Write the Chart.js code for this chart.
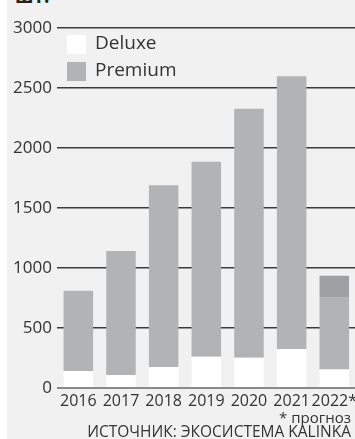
<!DOCTYPE html>
<html>
<head>
<meta charset="utf-8">
<script src="https://cdn.jsdelivr.net/npm/chart.js@4"></script>
<style>
  html, body { margin:0; padding:0; width:355px; height:439px; overflow:hidden; background:#ffffff; }
  #bg { position:absolute; left:7px; top:0; width:348px; height:439px; background:#f1f1f1; }
  #wrap { position:absolute; left:0; top:0; width:361px; height:439px; }
  .txt { position:absolute; font-family:"Open Sans", "Noto Sans", sans-serif; color:#333; white-space:nowrap; }
  #unit { left:15px; top:-17px; font-size:19px; font-weight:bold; color:#222; }
  .leg { position:absolute; left:67px; font-family:"Open Sans", sans-serif; font-size:19px; color:#333; }
  .leg span.sw { position:absolute; left:0; width:19px; height:19px; }
  .leg span.lb { position:absolute; left:28px; top:-6px; white-space:nowrap; }
  #note { right:4px; top:410px; font-size:15px; line-height:15px; }
  #src { right:4px; top:423px; font-size:15.5px; line-height:16px; }
</style>
</head>
<body>
<div id="bg"></div>
<div id="unit" class="txt">шт.</div>
<div id="wrap"><canvas id="c" width="361" height="439"></canvas></div>
<div class="leg" style="top:35px"><span class="sw" style="background:#ffffff"></span><span class="lb" id="l1"></span></div>
<div class="leg" style="top:62px"><span class="sw" style="background:#b2b3b4"></span><span class="lb" id="l2"></span></div>
<div id="note" class="txt">* прогноз</div>
<div id="src" class="txt">ИСТОЧНИК: ЭКОСИСТЕМА KALINKA</div>
<script>
const categories = ['2016','2017','2018','2019','2020','2021','2022*'];
const deluxe   = [142, 108, 175, 261, 253, 325, 155];
const premium  = [669, 1034, 1514, 1625, 2075, 2272, 597];
const forecast = [0, 0, 0, 0, 0, 0, 183];
const yTicks = [0, 500, 1000, 1500, 2000, 2500, 3000];
const seriesNames = ['Deluxe', 'Premium', 'Прогноз'];

document.getElementById('l1').textContent = seriesNames[0];
document.getElementById('l2').textContent = seriesNames[1];

new Chart(document.getElementById('c'), {
  type: 'bar',
  data: {
    labels: categories,
    datasets: [
      { label: seriesNames[0], data: deluxe, backgroundColor: '#ffffff' },
      { label: seriesNames[1], data: premium, backgroundColor: '#b2b3b4' },
      { label: seriesNames[2], data: forecast, backgroundColor: '#9fa0a3' }
    ]
  },
  options: {
    responsive: false,
    animation: false,
    devicePixelRatio: 1,
    layout: { padding: { top: 28, right: 0, left: 0, bottom: 0 } },
    datasets: { bar: { barPercentage: 0.692, categoryPercentage: 1, borderWidth: 0 } },
    plugins: { legend: { display: false }, tooltip: { enabled: false } },
    scales: {
      x: {
        stacked: true,
        grid: { display: false, drawTicks: false },
        border: { display: false },
        ticks: {
          color: '#333',
          padding: 4,
          maxRotation: 0,
          autoSkip: false,
          font: { family: '"Open Sans", sans-serif', size: 16 }
        },
        afterFit: (s) => { s.height = 51; }
      },
      y: {
        stacked: true,
        min: 0, max: 3000,
        afterBuildTicks: (s) => { s.ticks = yTicks.map(v => ({ value: v })); },
        grid: {
          drawTicks: false,
          color: (ctx) => ctx.tick && ctx.tick.value === 0 ? '#8a8a8a' : '#3c3c3c',
          lineWidth: (ctx) => ctx.tick && ctx.tick.value === 0 ? 2 : 1.5
        },
        border: { display: false },
        ticks: {
          color: '#333',
          padding: 5,
          callback: (v) => String(v),
          font: { family: '"Open Sans", sans-serif', size: 17 }
        },
        afterFit: (s) => { s.width = 57; }
      }
    }
  }
});
</script>
</body>
</html>
